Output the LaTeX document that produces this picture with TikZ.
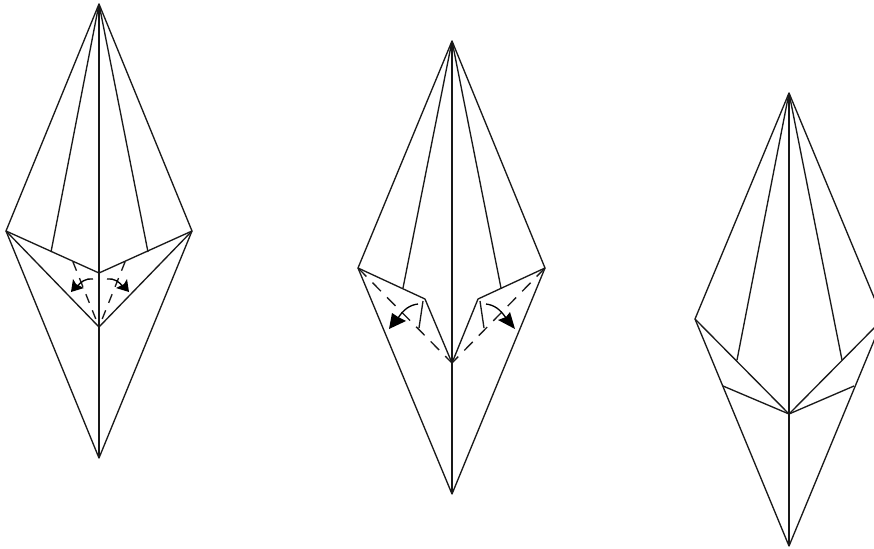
\documentclass[tikz,border=0pt]{standalone}
\tikzset{
  fold/.style={line width=1pt,line join=round,black!90},
  valley/.style={line width=1pt,black!90,dash pattern=on 9pt off 6.5pt},
  curl/.style={line width=1pt,black},
  tipfill/.style={fill=black,draw=none}
}
\begin{document}
\begin{tikzpicture}[x=0.75pt,y=-0.75pt]
\useasboundingbox (0,0) rectangle (874,549);
\clip (0,0) rectangle (874,549);
% --- figure 1
\coordinate (at) at (99,4);
\coordinate (al) at (6,231);
\coordinate (ar) at (192,231);
\coordinate (ab) at (99,458);
\coordinate (ac) at (99,273);
\coordinate (ad) at (99,327);
\coordinate (ae) at (51,252);
\coordinate (af) at (148,252);
\coordinate (ag) at (73,262);
\coordinate (ah) at (125,262);
\draw[fold] (at) -- (al) -- (ab) -- (ar) -- cycle;
\draw[fold] (at) -- (ab);
\draw[fold] (al) -- (ac) -- (ar);
\draw[fold] (al) -- (ad) -- (ar);
\draw[fold] (at) -- (ae);
\draw[fold] (at) -- (af);
\draw[valley,dash pattern=on 7pt off 6pt] (ag) -- (ad);
\draw[valley,dash pattern=on 7pt off 6pt] (ah) -- (ad);
\draw[curl] (93,279) .. controls (86,278) and (80,282) .. (77,287);
\fill[tipfill] (71,292) -- (73,279) -- (76,284) -- (84,288) -- cycle;
\draw[curl] (107,279) .. controls (114,278) and (120,282) .. (123,287);
\fill[tipfill] (129,292) -- (127,279) -- (124,284) -- (116,288) -- cycle;
% --- figure 2
\coordinate (bt) at (452,41);
\coordinate (bl) at (358,268);
\coordinate (br) at (545,268);
\coordinate (bb) at (452,494);
\coordinate (bc) at (452,363);
\coordinate (bd) at (425,299);
\coordinate (be) at (478,299);
\coordinate (bf) at (403,288);
\coordinate (bg) at (501,288);
\coordinate (bh) at (423,301);
\coordinate (bi) at (419,328);
\coordinate (bj) at (480,301);
\coordinate (bk) at (484,328);
\draw[fold] (bt) -- (bl) -- (bb) -- (br) -- cycle;
\draw[fold] (bt) -- (bb);
\draw[fold] (bl) -- (bd) -- (bc);
\draw[fold] (br) -- (be) -- (bc);
\draw[fold] (bt) -- (bf);
\draw[fold] (bt) -- (bg);
\draw[fold] (bh) -- (bi);
\draw[fold] (bj) -- (bk);
\draw[valley] (bl) -- (bc);
\draw[valley] (br) -- (bc);
\draw[curl] (418,304) .. controls (410,305) and (404,309) .. (398,318);
\fill[tipfill] (389,329) -- (392,313) -- (398,317) -- (406,321) -- cycle;
\draw[curl] (486,304) .. controls (494,305) and (500,309) .. (506,318);
\fill[tipfill] (515,329) -- (510,312) -- (506,317) -- (498,320) -- cycle;
% --- figure 3
\coordinate (ct) at (789,93);
\coordinate (cl) at (695,319);
\coordinate (cr) at (883,319);
\coordinate (cb) at (789,546);
\coordinate (cc) at (789,414);
\coordinate (cd) at (737,360);
\coordinate (ce) at (842,360);
\coordinate (cf) at (723,386);
\coordinate (cg) at (854,386);
\draw[fold] (ct) -- (cl) -- (cb) -- (cr) -- cycle;
\draw[fold] (ct) -- (cb);
\draw[fold] (cl) -- (cc) -- (cr);
\draw[fold] (ct) -- (cd);
\draw[fold] (ct) -- (ce);
\draw[fold] (cf) -- (cc) -- (cg);
\end{tikzpicture}
\end{document}
